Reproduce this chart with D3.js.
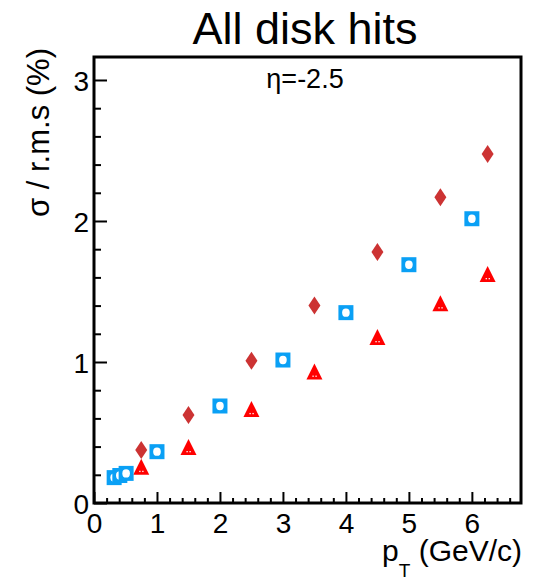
<!DOCTYPE html>
<html>
<head>
<meta charset="utf-8">
<script src="https://cdn.jsdelivr.net/npm/d3@7"></script>
<style>
  body { margin: 0; background: #fff; }
  svg text { font-family: "Liberation Sans", Arial, sans-serif; }
</style>
</head>
<body>
<div id="chart"></div>
<script>
// blue open squares
const squareX = [0.32, 0.41, 0.51, 1, 2, 3, 4, 5, 6];
const squareY = [0.18, 0.195, 0.21, 0.364, 0.688, 1.014, 1.35, 1.69, 2.016];
// dark red diamonds
const diamondX = [0.75, 1.5, 2.5, 3.5, 4.5, 5.5, 6.25];
const diamondY = [0.376, 0.624, 1.009, 1.40, 1.78, 2.168, 2.475];
// red triangles
const triangleX = [0.75, 1.5, 2.5, 3.5, 4.5, 5.5, 6.25];
const triangleY = [0.25, 0.39, 0.66, 0.925, 1.17, 1.41, 1.617];

const xTicks = [0, 1, 2, 3, 4, 5, 6];
const yTicks = [0, 1, 2, 3];

const W = 547, H = 583;
const margin = { top: 57, right: 26, bottom: 80, left: 94 };

const svg = d3.select("#chart").append("svg")
  .attr("width", W).attr("height", H);

const x = d3.scaleLinear().domain([0, 6.78]).range([margin.left, W - margin.right]);
const y = d3.scaleLinear().domain([0, 3.163]).range([H - margin.bottom, margin.top]);

const xMinor = d3.range(0, 6.8, 0.2).filter(v => Math.abs(v - Math.round(v)) > 1e-6);
const yMinor = d3.range(0, 3.16, 0.2).filter(v => Math.abs(v - Math.round(v)) > 1e-6);

function styleAxis(g) {
  g.select(".domain").remove();
  g.selectAll(".tick line").attr("stroke", "#000").attr("stroke-width", 2);
  g.selectAll(".tick text").attr("font-size", 28).attr("fill", "#000");
}

// x axis (ticks inward)
svg.append("g")
  .attr("transform", `translate(0,${y(0)})`)
  .call(d3.axisBottom(x).tickValues(xTicks).tickSize(-11).tickPadding(0).tickFormat(d3.format("d")))
  .call(styleAxis)
  .call(g => g.selectAll(".tick text").attr("y", 10).attr("dy", "0.71em"));
svg.append("g")
  .attr("transform", `translate(0,${y(0)})`)
  .call(d3.axisBottom(x).tickValues(xMinor).tickSize(-5).tickFormat(""))
  .call(styleAxis);

// y axis
svg.append("g")
  .attr("transform", `translate(${x(0)},0)`)
  .call(d3.axisLeft(y).tickValues(yTicks).tickSize(-13).tickPadding(0).tickFormat(d3.format("d")))
  .call(styleAxis)
  .call(g => g.selectAll(".tick text").attr("x", -5).attr("dy", "0.36em"));
svg.append("g")
  .attr("transform", `translate(${x(0)},0)`)
  .call(d3.axisLeft(y).tickValues(yMinor).tickSize(-7).tickFormat(""))
  .call(styleAxis);

// frame
svg.append("rect")
  .attr("x", x(0)).attr("y", y(3.163))
  .attr("width", x(6.78) - x(0)).attr("height", y(0) - y(3.163))
  .attr("fill", "none").attr("stroke", "#000").attr("stroke-width", 3);

// title and labels
svg.append("text")
  .attr("x", 305).attr("y", 44)
  .attr("text-anchor", "middle")
  .attr("font-size", 45)
  .text("All disk hits");

svg.append("text")
  .attr("x", 305).attr("y", 88)
  .attr("text-anchor", "middle")
  .attr("font-size", 27)
  .text("η=-2.5");

const xl = svg.append("text")
  .attr("x", W - margin.right + 1).attr("y", 561)
  .attr("text-anchor", "end")
  .attr("font-size", 30);
xl.append("tspan").text("p");
xl.append("tspan").attr("font-size", 19).attr("dy", 16).text("T");
xl.append("tspan").attr("dy", -16).text(" (GeV/c)");

svg.append("text")
  .attr("transform", "translate(49,48) rotate(-90)")
  .attr("text-anchor", "end")
  .attr("font-size", 31)
  .text("σ / r.m.s (%)");

// markers
const squares = squareX.map((v, i) => ({ x: v, y: squareY[i] }));
const diamonds = diamondX.map((v, i) => ({ x: v, y: diamondY[i] }));
const triangles = triangleX.map((v, i) => ({ x: v, y: triangleY[i] }));

svg.append("g").selectAll("path")
  .data(diamonds).enter().append("path")
  .attr("transform", d => `translate(${x(d.x)},${y(d.y)})`)
  .attr("d", "M0,-9L6,0L0,9L-6,0Z")
  .attr("fill", "#cc3333");

const tri = svg.append("g").selectAll("g")
  .data(triangles).enter().append("g")
  .attr("transform", d => `translate(${x(d.x)},${y(d.y)})`);
tri.append("path")
  .attr("d", "M0,-9L8,7L-8,7Z")
  .attr("fill", "#ff0000");
tri.selectAll("rect").data([-2, 1]).enter().append("rect")
  .attr("x", d => d).attr("y", 3).attr("width", 1.3).attr("height", 1.3)
  .attr("fill", "#fff");

const sq = svg.append("g").selectAll("g")
  .data(squares).enter().append("g")
  .attr("transform", d => `translate(${x(d.x)},${y(d.y)})`);
sq.append("rect")
  .attr("x", -7.5).attr("y", -7.5).attr("width", 15).attr("height", 15)
  .attr("fill", "#0aa0f5");
sq.append("ellipse")
  .attr("rx", 3.8).attr("ry", 4.2)
  .attr("fill", "#fff");
</script>
</body>
</html>
